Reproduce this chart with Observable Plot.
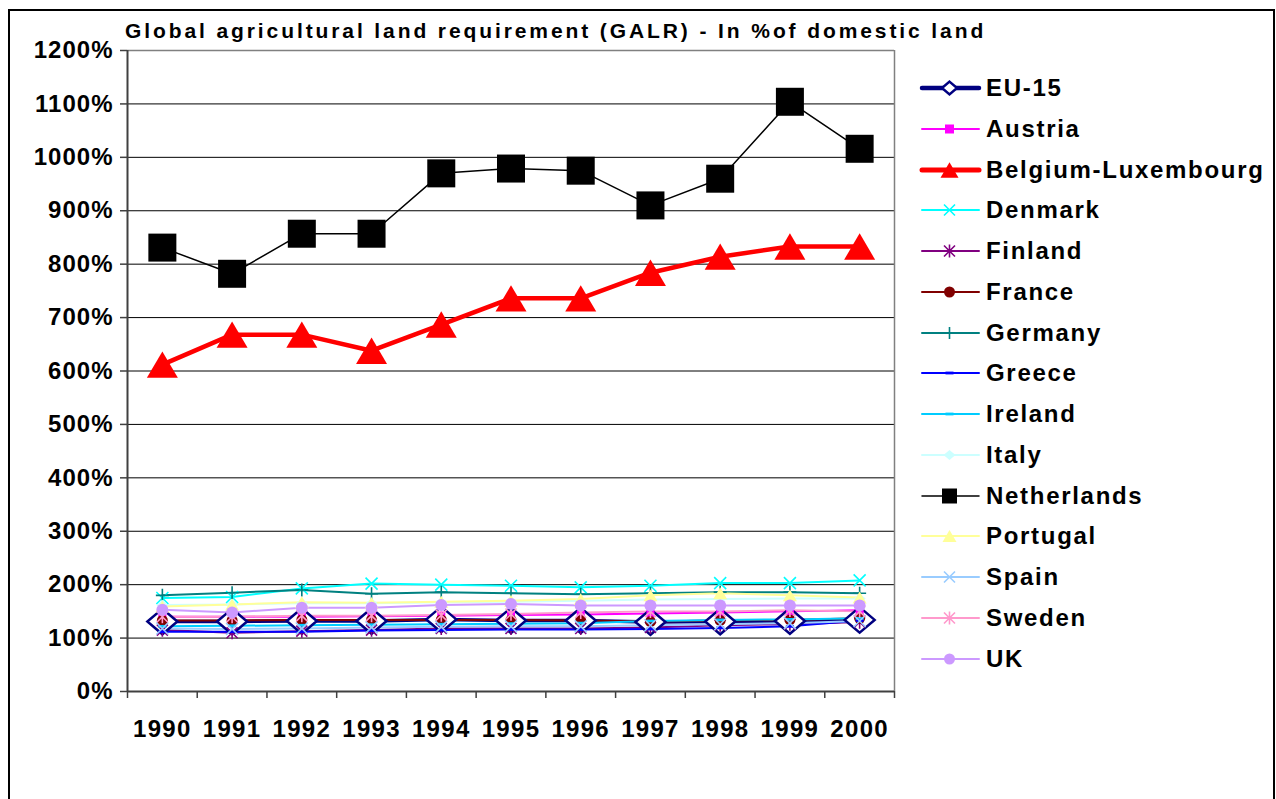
<!DOCTYPE html>
<html>
<head>
<meta charset="utf-8">
<script src="https://cdn.jsdelivr.net/npm/d3@7"></script>
<script src="https://cdn.jsdelivr.net/npm/@observablehq/plot@0.6"></script>
<style>
  html, body { margin: 0; padding: 0; background: #fff; }
  #wrap { position: relative; width: 1276px; height: 799px; overflow: hidden; font-family: "Liberation Sans", Arial, sans-serif; }
  #chart { position: absolute; left: 0; top: 0; }
  #frame { position: absolute; left: 8px; top: 9px; width: 1267px; height: 900px; border: 2px solid #000; box-sizing: border-box; pointer-events: none; }
  #title { position: absolute; left: 125px; top: 19px; font-size: 21px; font-weight: bold; letter-spacing: 2.9px; white-space: nowrap; color: #000; }
  #legend { position: absolute; left: 0; top: 0; width: 1276px; }
  .lrow { position: absolute; left: 920px; height: 30px; display: flex; align-items: center; white-space: nowrap; width: 360px; }
  .lrow span { font-size: 24px; font-weight: bold; letter-spacing: 1.7px; margin-left: 4px; color: #000; line-height: 30px; white-space: nowrap; }
  #chart svg g[aria-label="y-axis tick label"] text { font-weight: bold; letter-spacing: 1px; }
  #chart svg g[aria-label="x-axis tick label"] text { font-weight: bold; letter-spacing: 1.3px; }
</style>
</head>
<body>
<div id="wrap">
  <div id="chart"></div>
  <div id="title">Global agricultural land requirement (GALR) - In %of domestic land</div>
  <div id="legend"></div>
  <div id="frame"></div>
</div>
<script>
// ---- data (values in % of domestic land) ----
const years = [1990, 1991, 1992, 1993, 1994, 1995, 1996, 1997, 1998, 1999, 2000];
const yTicks = [0, 100, 200, 300, 400, 500, 600, 700, 800, 900, 1000, 1100, 1200];
const seriesNames = ["EU-15", "Austria", "Belgium-Luxembourg", "Denmark", "Finland", "France", "Germany", "Greece", "Ireland", "Italy", "Netherlands", "Portugal", "Spain", "Sweden", "UK"];
const eu15        = [131, 131, 132, 132, 135, 133, 133, 130, 131, 132, 134];
const austria     = [140, 140, 140, 141, 142, 143, 144, 146, 148, 150, 152];
const belgiumLux  = [612, 668, 668, 638, 687, 736, 736, 784, 814, 833, 833];
const denmark     = [175, 177, 193, 202, 200, 198, 195, 198, 203, 203, 208];
const finland     = [115, 110, 113, 115, 118, 118, 118, 120, 124, 126, 130];
const france      = [133, 133, 134, 134, 134, 134, 133, 131, 133, 134, 137];
const germany     = [180, 185, 190, 183, 186, 184, 182, 184, 186, 186, 184];
const greece      = [112, 112, 112, 114, 115, 116, 116, 117, 119, 122, 133];
const ireland     = [122, 123, 124, 125, 126, 127, 128, 132, 134, 135, 137];
const italy       = [162, 163, 165, 165, 167, 168, 170, 172, 173, 174, 174];
const netherlands = [831, 782, 857, 857, 970, 979, 975, 910, 960, 1104, 1016];
const portugal    = [159, 163, 167, 166, 168, 170, 173, 180, 184, 180, 176];
const spain       = [118, 117, 118, 120, 121, 122, 122, 124, 126, 128, 132];
const sweden      = [140, 140, 142, 142, 143, 145, 148, 150, 150, 152, 150];
const uk          = [153, 148, 157, 157, 162, 164, 161, 161, 161, 161, 161];
const seriesValues = [eu15, austria, belgiumLux, denmark, finland, france, germany, greece, ireland, italy, netherlands, portugal, spain, sweden, uk];

// ---- marker shapes ----
const rad = size => Math.sqrt(size / Math.PI);
const sym = {
  diamond: { draw(c, s) { const r = rad(s); c.moveTo(0, -0.85 * r); c.lineTo(r, 0); c.lineTo(0, 0.85 * r); c.lineTo(-r, 0); c.closePath(); } },
  square: { draw(c, s) { const r = rad(s); c.rect(-r, -r, 2 * r, 2 * r); } },
  triangle: { draw(c, s) { const r = rad(s); c.moveTo(0, -0.85 * r); c.lineTo(r, 0.85 * r); c.lineTo(-r, 0.85 * r); c.closePath(); } },
  times: { draw(c, s) { const r = rad(s); c.moveTo(-r, -r); c.lineTo(r, r); c.moveTo(r, -r); c.lineTo(-r, r); } },
  asterisk: { draw(c, s) { const r = rad(s); c.moveTo(-r, -r); c.lineTo(r, r); c.moveTo(r, -r); c.lineTo(-r, r); c.moveTo(0, -1.2 * r); c.lineTo(0, 1.2 * r); } },
  plus: { draw(c, s) { const r = rad(s); c.moveTo(0, -r); c.lineTo(0, r); c.moveTo(-r, 0); c.lineTo(r, 0); } },
  circle: { draw(c, s) { const r = rad(s); c.moveTo(r, 0); c.arc(0, 0, r, 0, 2 * Math.PI); c.closePath(); } },
  dash: { draw(c, s) { const r = rad(s); c.rect(-r, -0.35 * r, 2 * r, 0.7 * r); } }
};

// ---- styles per series (same order as seriesNames) ----
const styles = [
  { color: "#000080", lw: 3.5, symbol: "diamond", r: 15, lr: 7.5, fill: "#ffffff", sw: 2.5, llw: 4.5 },
  { color: "#FF00FF", lw: 2, symbol: "square", r: 4, lr: 4.5, fill: "color" },
  { color: "#FF0000", lw: 4.5, symbol: "triangle", r: 15.5, lr: 9, fill: "color", llw: 5 },
  { color: "#00FFFF", lw: 2, symbol: "times", r: 6, lr: 5.5, fill: "none", sw: 1.6 },
  { color: "#800080", lw: 2, symbol: "asterisk", r: 5.5, lr: 5.5, fill: "none", sw: 1.6 },
  { color: "#800000", lw: 2, symbol: "circle", r: 5.5, lr: 5.5, fill: "color" },
  { color: "#008080", lw: 2, symbol: "plus", r: 6.5, lr: 6, fill: "none", sw: 1.6 },
  { color: "#0000FF", lw: 2, symbol: "dash", r: 4, lr: 4, fill: "color" },
  { color: "#00CCFF", lw: 2, symbol: "dash", r: 4, lr: 4, fill: "color" },
  { color: "#CCFFFF", lw: 2, symbol: "diamond", r: 6, lr: 6, fill: "color" },
  { color: "#000000", lw: 1.5, symbol: "square", r: 14, lr: 7.5, fill: "color" },
  { color: "#FFFF99", lw: 2, symbol: "triangle", r: 7, lr: 7, fill: "color" },
  { color: "#99CCFF", lw: 2, symbol: "times", r: 6, lr: 5.5, fill: "none", sw: 1.6 },
  { color: "#FF99CC", lw: 2, symbol: "asterisk", r: 5.5, lr: 5.5, fill: "none", sw: 1.6 },
  { color: "#CC99FF", lw: 2, symbol: "circle", r: 6, lr: 5.5, fill: "color" }
];

const rows = seriesNames.map((name, i) => years.map((year, j) => ({ name, year, value: seriesValues[i][j] })));

const lineMarks = rows.map((d, i) => Plot.line(d, { x: "year", y: "value", stroke: styles[i].color, strokeWidth: styles[i].lw, strokeLinejoin: "round" }));
const dotMarks = rows.map((d, i) => {
  const st = styles[i];
  const fill = st.fill === "color" ? st.color : st.fill;
  return Plot.dot(d, {
    x: "year", y: "value", r: st.r, symbol: sym[st.symbol],
    fill,
    stroke: (st.fill === "none" || st.fill === "#ffffff") ? st.color : "none",
    strokeWidth: st.sw || 1
  });
});

const boundaries = d3.range(years[0] - 0.5, years[years.length - 1] + 1, 1);

const chart = Plot.plot({
  width: 1276,
  height: 799,
  marginLeft: 127,
  marginRight: 382,
  marginTop: 50,
  marginBottom: 108,
  style: { fontFamily: "'Liberation Sans', Arial, sans-serif", fontSize: "24px", color: "#000", background: "transparent", overflow: "visible" },
  x: { domain: [years[0] - 0.5, years[years.length - 1] + 0.5], label: null },
  y: { domain: [0, 1200], label: null },
  marks: [
    Plot.ruleY(yTicks.slice(1, -1), { stroke: "#000", strokeWidth: 1 }),
    Plot.ruleY([1200], { stroke: "#808080", strokeWidth: 1.5 }),
    Plot.ruleX([years[years.length - 1] + 0.5], { stroke: "#808080", strokeWidth: 1.5 }),
    Plot.axisY({ ticks: yTicks, tickSize: 7, tickPadding: 7, tickFormat: d => d + "%", stroke: "#404040", strokeWidth: 1.5, fontSize: 24, fontWeight: "bold" }),
    Plot.axisX({ ticks: boundaries, tickSize: 7, tickFormat: () => "", stroke: "#404040", strokeWidth: 1.5 }),
    Plot.axisX({ ticks: years, tickSize: 0, tickPadding: 28, tickFormat: d => String(d), fontSize: 24, fontWeight: "bold" }),
    Plot.ruleX([years[0] - 0.5], { stroke: "#404040", strokeWidth: 2 }),
    Plot.ruleY([0], { stroke: "#404040", strokeWidth: 2 }),
    ...lineMarks,
    ...dotMarks
  ]
});
document.getElementById("chart").appendChild(chart);

// ---- legend ----
const legend = document.getElementById("legend");
seriesNames.forEach((name, i) => {
  const st = styles[i];
  const cy = 88 + 40.75 * i;
  const row = document.createElement("div");
  row.className = "lrow";
  row.style.top = (cy - 15) + "px";
  const fill = st.fill === "color" ? st.color : st.fill;
  const stroke = (st.fill === "none" || st.fill === "#ffffff") ? st.color : "none";
  const path = d3.symbol(sym[st.symbol], Math.PI * st.lr * st.lr)();
  const lw = st.llw || Math.min(st.lw, 2.5);
  row.innerHTML = `<svg width="62" height="30" style="display:block;overflow:visible;flex:none">
    <line x1="2" x2="59" y1="15" y2="15" stroke="${st.color}" stroke-width="${lw}" stroke-linecap="round"/>
    <path d="${path}" transform="translate(29.5,15)" fill="${fill}" stroke="${stroke}" stroke-width="${st.sw || 1}"/>
  </svg><span>${name}</span>`;
  legend.appendChild(row);
});
</script>
</body>
</html>
